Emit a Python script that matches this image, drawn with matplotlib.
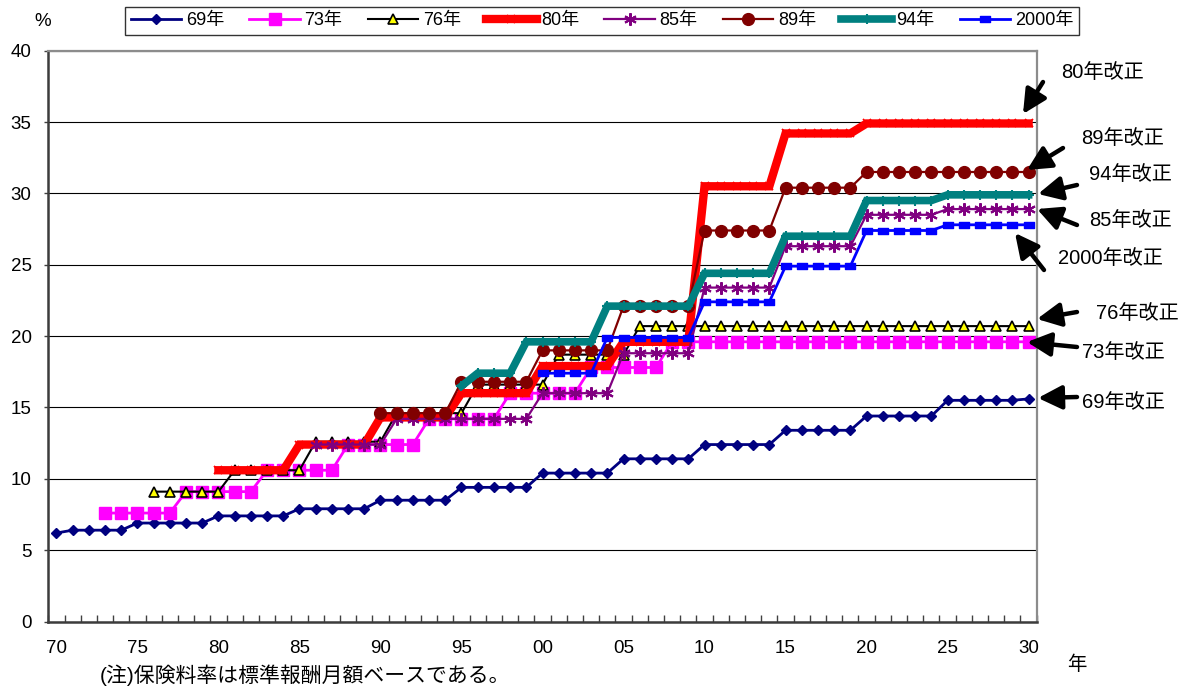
import matplotlib
matplotlib.use("Agg")
import matplotlib.pyplot as plt
import numpy as np
from matplotlib.path import Path

plt.rcParams['font.family'] = ['Liberation Sans', 'Noto Sans CJK JP']

# ---- data: contribution rate (%) by year under each pension reform ----
BASE_YEAR = 1970
tick_labels = ['70', '75', '80', '85', '90', '95', '00', '05', '10', '15', '20', '25', '30']

rev69_start = 1970
rev69 = [6.2,
         6.4, 6.4, 6.4, 6.4,
         6.9, 6.9, 6.9, 6.9, 6.9,
         7.4, 7.4, 7.4, 7.4, 7.4,
         7.9, 7.9, 7.9, 7.9, 7.9,
         8.5, 8.5, 8.5, 8.5, 8.5,
         9.4, 9.4, 9.4, 9.4, 9.4,
         10.4, 10.4, 10.4, 10.4, 10.4,
         11.4, 11.4, 11.4, 11.4, 11.4,
         12.4, 12.4, 12.4, 12.4, 12.4,
         13.4, 13.4, 13.4, 13.4, 13.4,
         14.4, 14.4, 14.4, 14.4, 14.4,
         15.5, 15.5, 15.5, 15.5, 15.5,
         15.6]

rev73_start = 1973
rev73 = [7.6, 7.6, 7.6, 7.6, 7.6,
         9.1, 9.1, 9.1, 9.1, 9.1,
         10.6, 10.6, 10.6, 10.6, 10.6,
         12.4, 12.4, 12.4, 12.4, 12.4,
         14.2, 14.2, 14.2, 14.2, 14.2,
         16.0, 16.0, 16.0, 16.0, 16.0,
         17.8, 17.8, 17.8, 17.8, 17.8,
         19.6, 19.6, 19.6, 19.6, 19.6, 19.6, 19.6, 19.6, 19.6, 19.6, 19.6, 19.6,
         19.6, 19.6, 19.6, 19.6, 19.6, 19.6, 19.6, 19.6, 19.6, 19.6, 19.6]

rev76_start = 1976
rev76 = [9.1, 9.1, 9.1, 9.1, 9.1,
         10.6, 10.6, 10.6, 10.6, 10.6,
         12.6, 12.6, 12.6, 12.6, 12.6,
         14.6, 14.6, 14.6, 14.6, 14.6,
         16.6, 16.6, 16.6, 16.6, 16.6,
         18.7, 18.7, 18.7, 18.7, 18.7,
         20.7, 20.7, 20.7, 20.7, 20.7, 20.7, 20.7, 20.7, 20.7, 20.7, 20.7, 20.7, 20.7,
         20.7, 20.7, 20.7, 20.7, 20.7, 20.7, 20.7, 20.7, 20.7, 20.7, 20.7, 20.7]

rev80_start = 1980
rev80 = [10.6, 10.6, 10.6, 10.6, 10.6,
         12.4, 12.4, 12.4, 12.4, 12.4,
         14.3, 14.3, 14.3, 14.3, 14.3,
         16.0, 16.0, 16.0, 16.0, 16.0,
         17.9, 17.9, 17.9, 17.9, 17.9,
         19.6, 19.6, 19.6, 19.6, 19.6,
         30.5, 30.5, 30.5, 30.5, 30.5,
         34.2, 34.2, 34.2, 34.2, 34.2,
         34.9, 34.9, 34.9, 34.9, 34.9, 34.9, 34.9, 34.9, 34.9, 34.9, 34.9]

rev85_start = 1986
rev85 = [12.4, 12.4, 12.4, 12.4, 12.4,
         14.2, 14.2, 14.2, 14.2, 14.2, 14.2, 14.2, 14.2, 14.2,
         16.0, 16.0, 16.0, 16.0, 16.0,
         18.8, 18.8, 18.8, 18.8, 18.8,
         23.4, 23.4, 23.4, 23.4, 23.4,
         26.3, 26.3, 26.3, 26.3, 26.3,
         28.5, 28.5, 28.5, 28.5, 28.5,
         28.9, 28.9, 28.9, 28.9, 28.9, 28.9]

rev89_start = 1990
rev89 = [14.6, 14.6, 14.6, 14.6, 14.6,
         16.8, 16.8, 16.8, 16.8, 16.8,
         19.0, 19.0, 19.0, 19.0, 19.0,
         22.1, 22.1, 22.1, 22.1, 22.1,
         27.4, 27.4, 27.4, 27.4, 27.4,
         30.4, 30.4, 30.4, 30.4, 30.4,
         31.5, 31.5, 31.5, 31.5, 31.5, 31.5, 31.5, 31.5, 31.5, 31.5, 31.5]

rev94_start = 1995
rev94 = [16.5,
         17.4, 17.4, 17.4,
         19.6, 19.6, 19.6, 19.6, 19.6,
         22.1, 22.1, 22.1, 22.1, 22.1, 22.1,
         24.4, 24.4, 24.4, 24.4, 24.4,
         27.0, 27.0, 27.0, 27.0, 27.0,
         29.5, 29.5, 29.5, 29.5, 29.5,
         29.9, 29.9, 29.9, 29.9, 29.9, 29.9]

rev00_start = 2000
rev00 = [17.4, 17.4, 17.4, 17.4,
         19.9, 19.9, 19.9, 19.9, 19.9, 19.9,
         22.4, 22.4, 22.4, 22.4, 22.4,
         24.9, 24.9, 24.9, 24.9, 24.9,
         27.4, 27.4, 27.4, 27.4, 27.4,
         27.8, 27.8, 27.8, 27.8, 27.8, 27.8]

series_labels = ['69年', '73年', '76年', '80年', '85年', '89年', '94年', '2000年']
annot_labels = ['80年改正', '89年改正', '94年改正', '85年改正',
                '2000年改正', '76年改正', '73年改正', '69年改正']

# ---- figure layout (pixel based) ----
W, H = 1186, 686
fig = plt.figure(figsize=(W / 100, H / 100), dpi=100)
L, R, T, B = 48.3, 1036.7, 50.7, 621.5
ax = fig.add_axes([L / W, 1 - B / H, (R - L) / W, (B - T) / H])

# wide dash marker for the 2000 series
dash = Path([(-1, -0.5), (1, -0.5), (1, 0.5), (-1, 0.5), (-1, -0.5)],
            [Path.MOVETO, Path.LINETO, Path.LINETO, Path.LINETO, Path.CLOSEPOLY])

styles = [
    dict(color='#000080', lw=2.0, marker='D', ms=5.5, mfc='#000080', mec='#000080'),
    dict(color='#FF00FF', lw=2.0, marker='s', ms=8, mfc='#FF00FF', mec='#FF00FF'),
    dict(color='black', lw=1.5, marker='^', ms=7, mfc='#FFFF00', mec='black', mew=1.2),
    dict(color='#FF0000', lw=6.0, marker='x', ms=6, mec='#FF0000', mew=1.3),
    dict(color='#800080', lw=1.6, marker=(6, 2, 0), ms=9, mec='#800080', mew=1.5),
    dict(color='#800000', lw=1.6, marker='o', ms=8.5, mfc='#800000', mec='#800000'),
    dict(color='#008080', lw=5.5, marker='+', ms=7, mec='#008080', mew=1.5),
    dict(color='#0000FF', lw=2.0, marker=dash, ms=7.5, mfc='#0000FF', mec='#0000FF'),
]

data = [(rev69_start, rev69), (rev73_start, rev73), (rev76_start, rev76),
        (rev80_start, rev80), (rev85_start, rev85), (rev89_start, rev89),
        (rev94_start, rev94), (rev00_start, rev00)]

handles = []
for (start, vals), st, lab in zip(data, styles, series_labels):
    xs = np.arange(start, start + len(vals)) - BASE_YEAR
    h, = ax.plot(xs, vals, label=lab, solid_joinstyle='miter', clip_on=False, **st)
    handles.append(h)

# ---- axes styling ----
n_years = 2030 - BASE_YEAR + 1
ax.set_xlim(-0.5, n_years - 0.5)
ax.set_ylim(0, 40)
ax.set_yticks(np.arange(0, 41, 5))
ax.set_xticks(np.arange(0, n_years, 5))
ax.set_xticklabels(tick_labels)
ax.set_xticks(np.arange(-0.5, n_years, 1), minor=True)
ax.tick_params(axis='x', which='major', length=0, pad=13, labelsize=13.5)
ax.tick_params(axis='x', which='minor', direction='in', length=5, width=1, color='#404040')
ax.tick_params(axis='y', which='major', direction='out', length=3, width=1,
               color='#404040', pad=9, labelsize=13.5)
ax.yaxis.grid(True, color='black', lw=0.8)
ax.set_axisbelow(True)
for side in ('left', 'bottom'):
    ax.spines[side].set_color('#3c3c3c')
    ax.spines[side].set_linewidth(1.8)
for side in ('top', 'right'):
    ax.spines[side].set_color('#8c8c8c')
    ax.spines[side].set_linewidth(1.6)

# ---- legend ----
leg = fig.legend(handles=handles, labels=series_labels, ncol=8, loc='center',
                 bbox_to_anchor=(602 / W, 1 - 21 / H), frameon=True, fancybox=False,
                 edgecolor='black', fontsize=13, handlelength=2.8, handletextpad=0.25,
                 columnspacing=1.4, borderpad=0.3, borderaxespad=0)
leg.get_frame().set_linewidth(1.0)

# ---- reform labels with arrows ----
def px(x, y):
    return (x, H - y)

label_pos = [(1103, 73), (1123, 138), (1130, 175), (1130, 221),
             (1110, 258), (1137, 313), (1123, 352), (1123, 403)]
arrow_tail = [(1043, 82), (1063, 148), (1077, 185), (1077, 225),
              (1044, 270), (1077, 312), (1077, 347), (1077, 397)]
arrow_head = [(1023, 114), (1027, 170), (1038, 194), (1037, 209),
              (1015, 233), (1037, 319), (1027, 342), (1038, 398)]

for text, pos, tail, head in zip(annot_labels, label_pos, arrow_tail, arrow_head):
    fig.text(pos[0] / W, 1 - pos[1] / H, text, ha='center', va='center', fontsize=14.5)
    ax.annotate('', xy=px(*head), xycoords='figure pixels',
                xytext=px(*tail), textcoords='figure pixels',
                arrowprops=dict(arrowstyle='-|>,head_length=1.2,head_width=0.6',
                                mutation_scale=12, lw=3.2, color='black',
                                shrinkA=0, shrinkB=0),
                annotation_clip=False)

fig.text(43 / W, 1 - 22 / H, '%', ha='center', va='center', fontsize=13.5)
fig.text(1077 / W, 1 - 665 / H, '年', ha='center', va='center', fontsize=14)
fig.text(100 / W, 1 - 675 / H, '(注)保険料率は標準報酬月額ベースである。',
         ha='left', va='center', fontsize=15)

fig.savefig('out.png', dpi=100)
